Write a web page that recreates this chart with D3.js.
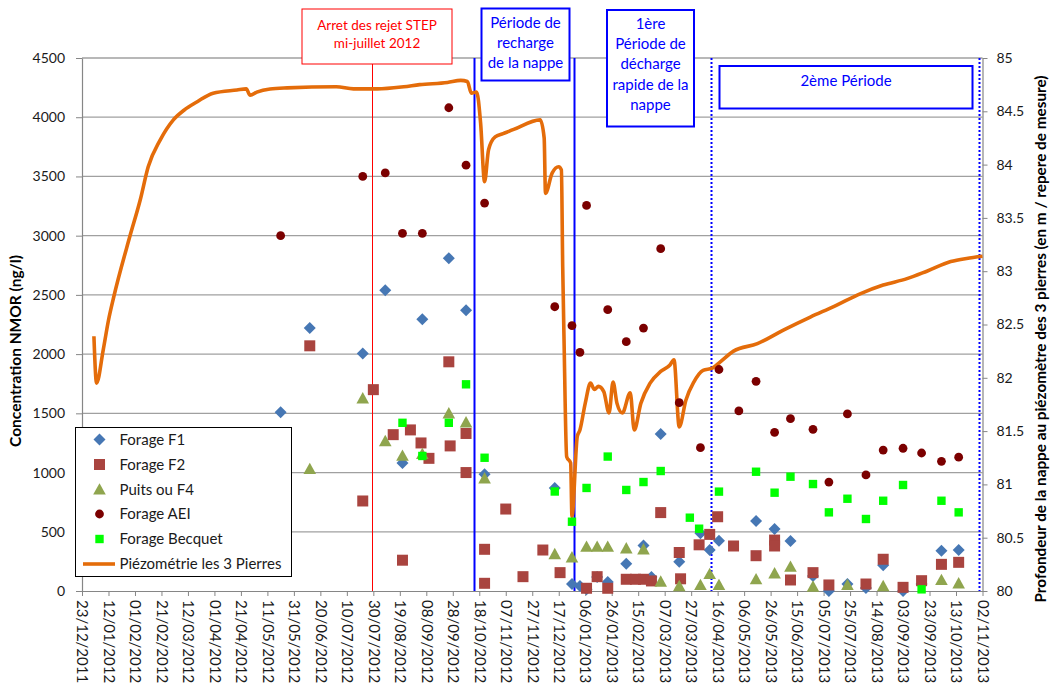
<!DOCTYPE html>
<html><head><meta charset="utf-8">
<script src="https://cdn.jsdelivr.net/npm/d3@7"></script>
<style>
body{margin:0;background:#fff;}
text{font-family:Lato,"Open Sans",sans-serif;}
</style>
</head><body>
<svg id="c" width="1054" height="686"></svg>
<script>
// ---------- DATA ----------
const xTickLabels = ["23/12/2011","12/01/2012","01/02/2012","21/02/2012","12/03/2012","01/04/2012","21/04/2012","11/05/2012","31/05/2012","20/06/2012","10/07/2012","30/07/2012","19/08/2012","08/09/2012","28/09/2012","18/10/2012","07/11/2012","27/11/2012","17/12/2012","06/01/2013","26/01/2013","15/02/2013","07/03/2013","27/03/2013","16/04/2013","06/05/2013","26/05/2013","15/06/2013","05/07/2013","25/07/2013","14/08/2013","03/09/2013","23/09/2013","13/10/2013","02/11/2013"];
const yLeftTicks = [0,500,1000,1500,2000,2500,3000,3500,4000,4500];
const yRightTicks = [80,80.5,81,81.5,82,82.5,83,83.5,84,84.5,85];
const seriesNames = ["Forage F1","Forage F2","Puits ou F4","Forage AEI","Forage Becquet","Piézométrie les 3 Pierres"];

const forageF1 = [["2012-05-21",1510],["2012-06-12",2220],["2012-07-22",2005],["2012-08-08",2540],["2012-08-21",1080],["2012-09-05",2295],["2012-09-25",2810],["2012-10-08",2370],["2012-10-22",985],["2012-12-14",870],["2012-12-27",60],["2013-01-02",42],["2013-01-07",15],["2013-01-15",118],["2013-01-23",75],["2013-02-06",230],["2013-02-19",385],["2013-02-25",118],["2013-03-04",1325],["2013-03-18",248],["2013-04-03",487],["2013-04-10",346],["2013-04-17",425],["2013-05-15",591],["2013-05-29",523],["2013-06-10",422],["2013-06-27",127],["2013-07-09",0],["2013-07-23",59],["2013-08-06",25],["2013-08-19",217],["2013-09-03",0],["2013-09-17",59],["2013-10-02",340],["2013-10-15",346]];

const forageF2 = [["2012-06-12",2070],["2012-07-22",760],["2012-07-30",1700],["2012-08-14",1320],["2012-08-21",260],["2012-08-27",1360],["2012-09-04",1250],["2012-09-10",1120],["2012-09-25",1935],["2012-09-26",1225],["2012-10-08",1330],["2012-10-08",1000],["2012-10-22",352],["2012-10-22",65],["2012-11-07",692],["2012-11-20",121],["2012-12-05",346],["2012-12-18",155],["2013-01-07",23],["2013-01-15",121],["2013-01-23",23],["2013-02-06",99],["2013-02-13",99],["2013-02-19",99],["2013-02-25",85],["2013-03-04",662],["2013-03-18",325],["2013-03-19",103],["2013-04-02",390],["2013-04-10",478],["2013-04-16",627],["2013-04-28",380],["2013-05-15",298],["2013-05-29",430],["2013-05-29",380],["2013-06-10",93],["2013-06-27",155],["2013-07-09",51],["2013-08-06",59],["2013-08-19",268],["2013-09-03",31],["2013-09-17",87],["2013-10-02",225],["2013-10-15",242]];

const puitsF4 = [["2012-06-12",1030],["2012-07-22",1627],["2012-08-08",1266],["2012-08-21",1142],["2012-09-05",1157],["2012-09-25",1500],["2012-10-08",1424],["2012-10-22",951],["2012-12-14",312],["2012-12-27",284],["2013-01-07",374],["2013-01-15",374],["2013-01-23",374],["2013-02-06",360],["2013-02-19",352],["2013-03-04",79],["2013-03-18",42],["2013-04-03",51],["2013-04-10",144],["2013-04-17",51],["2013-05-15",99],["2013-05-29",149],["2013-06-10",205],["2013-06-27",37],["2013-07-23",51],["2013-08-19",42],["2013-10-02",93],["2013-10-15",65]];

const forageAEI = [["2012-05-21",3000],["2012-07-22",3500],["2012-08-08",3530],["2012-08-21",3020],["2012-09-05",3020],["2012-09-25",4080],["2012-10-08",3595],["2012-10-22",3275],["2012-12-14",2400],["2012-12-27",2240],["2013-01-02",2015],["2013-01-07",3255],["2013-01-23",2375],["2013-02-06",2105],["2013-02-19",2220],["2013-03-04",2890],["2013-03-18",1590],["2013-04-03",1210],["2013-04-17",1870],["2013-05-02",1520],["2013-05-15",1770],["2013-05-29",1340],["2013-06-10",1455],["2013-06-27",1365],["2013-07-09",920],["2013-07-23",1495],["2013-08-06",980],["2013-08-19",1190],["2013-09-03",1205],["2013-09-17",1165],["2013-10-02",1095],["2013-10-15",1130]];

const forageBecquet = [["2012-08-21",1420],["2012-09-05",1140],["2012-09-25",1420],["2012-10-08",1745],["2012-10-22",1125],["2012-12-14",840],["2012-12-27",585],["2013-01-07",870],["2013-01-23",1135],["2013-02-06",853],["2013-02-19",920],["2013-03-04",1013],["2013-03-26",619],["2013-04-02",526],["2013-04-17",839],["2013-05-15",1007],["2013-05-29",830],["2013-06-10",965],["2013-06-27",903],["2013-07-09",664],["2013-07-23",779],["2013-08-06",608],["2013-08-19",762],["2013-09-03",895],["2013-09-17",14],["2013-10-02",762],["2013-10-15",664]];

const piezometrie = [["2012-01-01",82.39],["2012-01-03",81.95],["2012-01-08",82.26],["2012-01-12",82.54],["2012-01-16",82.76],["2012-01-28",83.32],["2012-02-05",83.67],["2012-02-11",83.98],["2012-02-20",84.23],["2012-03-01",84.42],["2012-03-09",84.51],["2012-03-19",84.59],["2012-03-31",84.67],["2012-04-18",84.70],["2012-04-25",84.71],["2012-04-28",84.65],["2012-05-03",84.68],["2012-05-13",84.71],["2012-05-26",84.72],["2012-07-02",84.73],["2012-07-15",84.71],["2012-08-02",84.71],["2012-08-22",84.73],["2012-09-03",84.75],["2012-09-24",84.77],["2012-10-04",84.79],["2012-10-09",84.78],["2012-10-12",84.67],["2012-10-16",84.68],["2012-10-19",84.39],["2012-10-22",83.84],["2012-10-25",84.14],["2012-10-30",84.26],["2012-11-05",84.29],["2012-11-13",84.33],["2012-12-03",84.42],["2012-12-06",84.25],["2012-12-07",83.73],["2012-12-12",83.92],["2012-12-17",83.98],["2012-12-19",83.95],["2012-12-20",83.04],["2012-12-21",82.36],["2012-12-23",81.26],["2012-12-26",81.20],["2012-12-27",80.70],["2012-12-31",81.45],["2013-01-02",81.51],["2013-01-06",81.76],["2013-01-10",81.95],["2013-01-13",81.89],["2013-01-16",81.92],["2013-01-20",81.87],["2013-01-24",81.67],["2013-01-27",81.96],["2013-01-30",81.76],["2013-02-03",81.67],["2013-02-09",81.86],["2013-02-12",81.51],["2013-02-17",81.76],["2013-02-24",81.95],["2013-03-04",82.06],["2013-03-11",82.12],["2013-03-14",82.17],["2013-03-18",81.54],["2013-03-23",81.79],["2013-03-29",81.96],["2013-04-05",82.07],["2013-04-12",82.09],["2013-04-18",82.15],["2013-04-28",82.25],["2013-05-16",82.32],["2013-06-05",82.45],["2013-06-25",82.57],["2013-07-13",82.67],["2013-08-02",82.79],["2013-08-19",82.87],["2013-09-06",82.93],["2013-09-21",83.00],["2013-10-09",83.09],["2013-10-21",83.12],["2013-11-02",83.14]];

const eventDates = ["2012-07-30","2012-10-15","2012-12-29","2013-04-12","2013-10-31"];
const eventStyles = ["red","blue","blue","dotted","dotted"];
const annotationTexts = [["Arret des rejet STEP","mi-juillet 2012"],["Période de","recharge","de la nappe"],["1ère","Période de","décharge","rapide de la","nappe"],["2ème Période"]];

// ---------- LAYOUT ----------
const L = 82, R = 982.5, T = 58, B = 591;
const parseISO = d3.timeParse("%Y-%m-%d");
const parseDMY = d3.timeParse("%d/%m/%Y");
const x = d3.scaleTime().domain([parseDMY(xTickLabels[0]), parseDMY(xTickLabels[xTickLabels.length-1])]).range([L, R]);
const yL = d3.scaleLinear().domain([0,4500]).range([B,T]);
const yR = d3.scaleLinear().domain([80,85]).range([B,T]);

const svg = d3.select("#c");
svg.append("rect").attr("width",1054).attr("height",686).attr("fill","#fff");

// gridlines
svg.append("g").selectAll("line").data(yLeftTicks.filter(v=>v>0)).join("line")
  .attr("x1",L).attr("x2",R).attr("y1",d=>yL(d)).attr("y2",d=>yL(d))
  .attr("stroke","#a0a0a0").attr("stroke-width",1.3);

// axes
function styleAxis(g, fs){
  g.select(".domain").attr("stroke","#868686").attr("stroke-width",1.2);
  g.selectAll(".tick line").attr("stroke","#868686");
  g.selectAll("text").attr("fill","#1a1a1a").style("font-size",fs+"px").style("font-family","Lato");
}
const gx = svg.append("g").attr("transform",`translate(0,${B})`)
  .call(d3.axisBottom(x).tickValues(xTickLabels.map(parseDMY)).tickFormat((d,i)=>xTickLabels[i]).tickSize(5).tickSizeOuter(0));
styleAxis(gx,15);
gx.selectAll("text").attr("transform","rotate(90)").attr("x",9).attr("y",0).attr("dy","0.35em").style("text-anchor","start");

const gl = svg.append("g").attr("transform",`translate(${L},0)`)
  .call(d3.axisLeft(yL).tickValues(yLeftTicks).tickFormat(d=>String(d)).tickSize(6).tickPadding(11).tickSizeOuter(0));
styleAxis(gl,14);
const gr = svg.append("g").attr("transform",`translate(${R},0)`)
  .call(d3.axisRight(yR).tickValues(yRightTicks).tickFormat(d=>String(d)).tickSize(5).tickPadding(9).tickSizeOuter(0));
styleAxis(gr,14);

// axis titles
svg.append("text").attr("transform","translate(21,351) rotate(-90)").attr("text-anchor","middle")
  .style("font-weight","bold").style("font-size","15.5px").text("Concentration NMOR (ng/l)");
svg.append("text").attr("transform","translate(1046,339) rotate(-90)").attr("text-anchor","middle")
  .style("font-weight","bold").style("font-size","15.3px").text("Profondeur de la nappe au piézomètre  des 3 pierres (en m / repere de mesure)");

// event vertical lines
eventDates.forEach((d,i)=>{
  const xv = Math.round(x(parseISO(d)))-0.5, st = eventStyles[i];
  svg.append("line").attr("x1",xv).attr("x2",xv).attr("y1",st==="red"?64:T).attr("y2",B)
    .attr("stroke",st==="red"?"#ff0000":"#0000ff").attr("stroke-width",st==="red"?1:2)
    .attr("stroke-dasharray",st==="dotted"?"2,2":null);
});

// piezometry line
const line = d3.line().x(d=>x(parseISO(d[0]))).y(d=>yR(d[1])).curve(d3.curveMonotoneX);
svg.append("path").datum(piezometrie).attr("d",line).attr("fill","none")
  .attr("stroke","#e46c0a").attr("stroke-width",3.6).attr("stroke-linejoin","round");

// marker shapes
const shapes = {
  diamond:(s)=>`M0,${-s}L${s},0L0,${s}L${-s},0Z`,
  square:(s)=>`M${-s},${-s}H${s}V${s}H${-s}Z`,
  triangle:(s)=>`M0,${-s*1.05}L${s*1.05},${s*0.85}L${-s*1.05},${s*0.85}Z`,
  circle:(s)=>`M${-s},0A${s},${s} 0 1,0 ${s},0A${s},${s} 0 1,0 ${-s},0Z`
};
const series = [
  {data:forageF1, shape:"diamond", size:6, color:"#4677b4"},
  {data:forageF2, shape:"square", size:5.5, color:"#a9443f"},
  {data:puitsF4, shape:"triangle", size:6, color:"#8fa54e"},
  {data:forageAEI, shape:"circle", size:4.4, color:"#7b0000"},
  {data:forageBecquet, shape:"square", size:4.2, color:"#00ff00"}
];
series.forEach(s=>{
  svg.append("g").selectAll("path").data(s.data).join("path")
    .attr("transform",d=>`translate(${x(parseISO(d[0]))},${yL(d[1])})`)
    .attr("d",shapes[s.shape](s.size)).attr("fill",s.color);
});

// annotation boxes
const boxes = [
  {x0:302,x1:452,y0:9,y1:64,color:"#ff0000",sw:1,ly:[25,43],fs:13.5},
  {x0:481.5,x1:569.5,y0:8.5,y1:80.5,color:"#0000ff",sw:2,ly:[23,43,63],fs:15},
  {x0:607,x1:694,y0:10,y1:126.5,color:"#0000ff",sw:2,ly:[24,44,64,85,105],fs:15},
  {x0:719.5,x1:972.5,y0:66,y1:108.5,color:"#0000ff",sw:2,ly:[81],fs:15}
];
boxes.forEach((b,i)=>{
  svg.append("rect").attr("x",b.x0).attr("y",b.y0).attr("width",b.x1-b.x0).attr("height",b.y1-b.y0)
    .attr("fill","#fff").attr("stroke",b.color).attr("stroke-width",b.sw);
  annotationTexts[i].forEach((t,j)=>{
    svg.append("text").attr("x",(b.x0+b.x1)/2).attr("y",b.ly[j]).attr("dy","0.35em")
      .attr("text-anchor","middle").attr("fill",b.color).style("font-size",b.fs+"px").text(t);
  });
});

// legend
const lg = svg.append("g");
lg.append("rect").attr("x",75.5).attr("y",427.5).attr("width",216).attr("height",149)
  .attr("fill","#fff").attr("stroke","#000").attr("stroke-width",1);
const legY = [439.5,464.5,489.5,514,539,564];
seriesNames.forEach((n,i)=>{
  if(i<5){
    const s = series[i];
    lg.append("path").attr("transform",`translate(99.5,${legY[i]})`).attr("d",shapes[s.shape](s.size)).attr("fill",s.color);
  } else {
    lg.append("line").attr("x1",83).attr("x2",115).attr("y1",legY[i]).attr("y2",legY[i]).attr("stroke","#e46c0a").attr("stroke-width",3.6);
  }
  lg.append("text").attr("x",119.5).attr("y",legY[i]).attr("dy","0.35em").style("font-size","15px").attr("fill","#1a1a1a").text(n);
});
</script>
</body></html>
